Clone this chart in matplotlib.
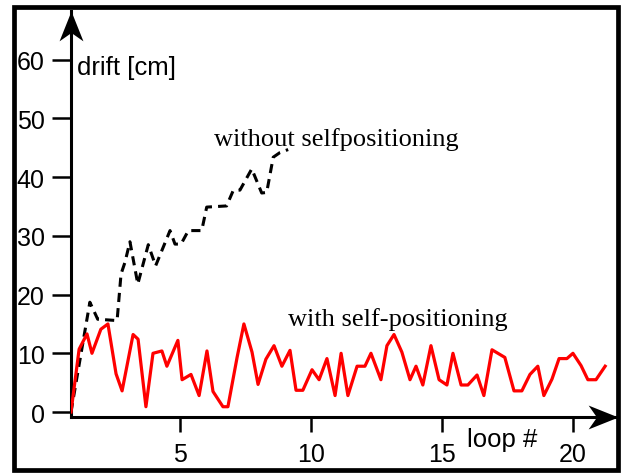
import numpy as np
import matplotlib
matplotlib.use('Agg')
import matplotlib.pyplot as plt
from matplotlib.path import Path
from matplotlib.patches import Rectangle

# drift with self-positioning (red line)
loop_with = [0.84, 1.15, 1.45, 1.64, 1.98, 2.25, 2.56, 2.79, 3.21, 3.40,
             3.70, 3.97, 4.31, 4.50, 4.92, 5.08, 5.42, 5.73, 6.03, 6.26,
             6.64, 6.83, 7.18, 7.44, 7.75, 7.98, 8.28, 8.59, 8.89, 9.20,
             9.43, 9.69, 10.04, 10.31, 10.61, 10.92, 11.15, 11.41, 11.76, 12.06,
             12.29, 12.67, 12.90, 13.17, 13.47, 13.78, 14.01, 14.27, 14.58, 14.89,
             15.19, 15.42, 15.73, 15.99, 16.34, 16.60, 16.91, 17.40, 17.75, 18.05,
             18.36, 18.66, 18.89, 19.20, 19.47, 19.77, 20.00, 20.31, 20.57, 20.88,
             21.23]
drift_with = [0.0, 10.7, 13.3, 10.0, 14.1, 15.0, 6.5, 3.6, 13.2, 12.4,
              0.9, 10.0, 10.4, 7.8, 12.2, 5.5, 6.4, 2.8, 10.4, 3.5,
              0.9, 0.9, 9.3, 15.0, 10.2, 4.7, 9.0, 11.3, 7.8, 10.5,
              3.7, 3.7, 7.2, 5.5, 9.1, 2.8, 10.0, 2.8, 7.8, 7.8,
              10.0, 5.5, 11.3, 13.2, 10.2, 5.5, 7.8, 4.6, 11.3, 5.5,
              4.6, 10.0, 4.6, 4.6, 6.3, 2.8, 10.6, 9.3, 3.6, 3.6,
              6.4, 7.8, 2.8, 5.6, 9.1, 9.1, 10.0, 7.9, 5.5, 5.5,
              7.8]

# drift without self-positioning (dashed line)
loop_without = [0.84, 1.56, 1.86, 2.52, 2.60, 2.75, 2.90, 3.09, 3.39, 3.79,
                4.07, 4.62, 4.81, 5.04, 5.32, 5.83, 6.02, 6.78, 7.03, 7.29,
                7.74, 8.12, 8.31, 8.56, 8.82, 9.13]
drift_without = [0.0, 18.7, 15.8, 15.6, 15.6, 23.5, 25.5, 29.0, 21.8, 28.5,
                 24.9, 30.9, 28.6, 28.6, 30.9, 30.9, 34.9, 35.1, 37.7, 37.8,
                 41.4, 37.3, 37.4, 43.4, 44.2, 44.7]

yticks = [0, 10, 20, 30, 40, 50, 60]
xticks = [5, 10, 15, 20]

sans = 'Liberation Sans'
serif = 'Liberation Serif'

fig = plt.figure(figsize=(6.24, 4.77), dpi=100)
ax = fig.add_axes([0.11378, 0.12369, 0.87660, 0.85115])

ax.plot(loop_with, drift_with, c='#ff0000', lw=2.3, zorder=3)
ax.plot(loop_without, drift_without, c='k', lw=2.2, dashes=(3.0, 2.0), zorder=2)

ax.set_xlim(0.84, 21.72)
ax.set_ylim(-0.85, 68.3)

for s in ['top', 'right']:
    ax.spines[s].set_visible(False)
for s in ['left', 'bottom']:
    ax.spines[s].set_linewidth(2.2)

ax.set_xticks(xticks)
ax.set_yticks(yticks)
ax.tick_params(axis='y', direction='out', length=14, width=1.8, pad=5, labelsize=18)
ax.tick_params(axis='x', direction='out', length=11, width=1.8, pad=7, labelsize=18)
for lab in ax.get_xticklabels() + ax.get_yticklabels():
    lab.set_fontfamily(sans)

# stealth style arrow heads at the axis ends
up = Path([(0, 0), (-0.4, -1), (0, -0.72), (0.4, -1), (0, 0)],
          [Path.MOVETO, Path.LINETO, Path.LINETO, Path.LINETO, Path.CLOSEPOLY])
right = Path([(0, 0), (-1, 0.4), (-0.72, 0), (-1, -0.4), (0, 0)],
             [Path.MOVETO, Path.LINETO, Path.LINETO, Path.LINETO, Path.CLOSEPOLY])
ax.plot(0, 1, marker=up, ms=43, mfc='k', mew=0, transform=ax.transAxes, clip_on=False)
ax.plot(1, 0, marker=right, ms=43, mfc='k', mew=0, transform=ax.transAxes, clip_on=False)

ax.text(1.07, 57.6, 'drift [cm]', fontsize=18.5, family=sans, ha='left', va='baseline')
ax.text(15.95, -5.8, 'loop #', fontsize=18.5, family=sans, ha='left', va='baseline')
ax.text(10.95, 45.5, 'without selfpositioning', fontsize=19, family=serif,
        ha='center', va='baseline')
ax.text(13.32, 14.8, 'with self-positioning', fontsize=19, family=serif,
        ha='center', va='baseline')

# thick frame round the whole figure
fig.patches.append(Rectangle((0.0224, 0.0126), 0.9672, 0.9696, transform=fig.transFigure,
                             fill=False, lw=3.4, ec='k'))

fig.savefig('out.png', dpi=100)
